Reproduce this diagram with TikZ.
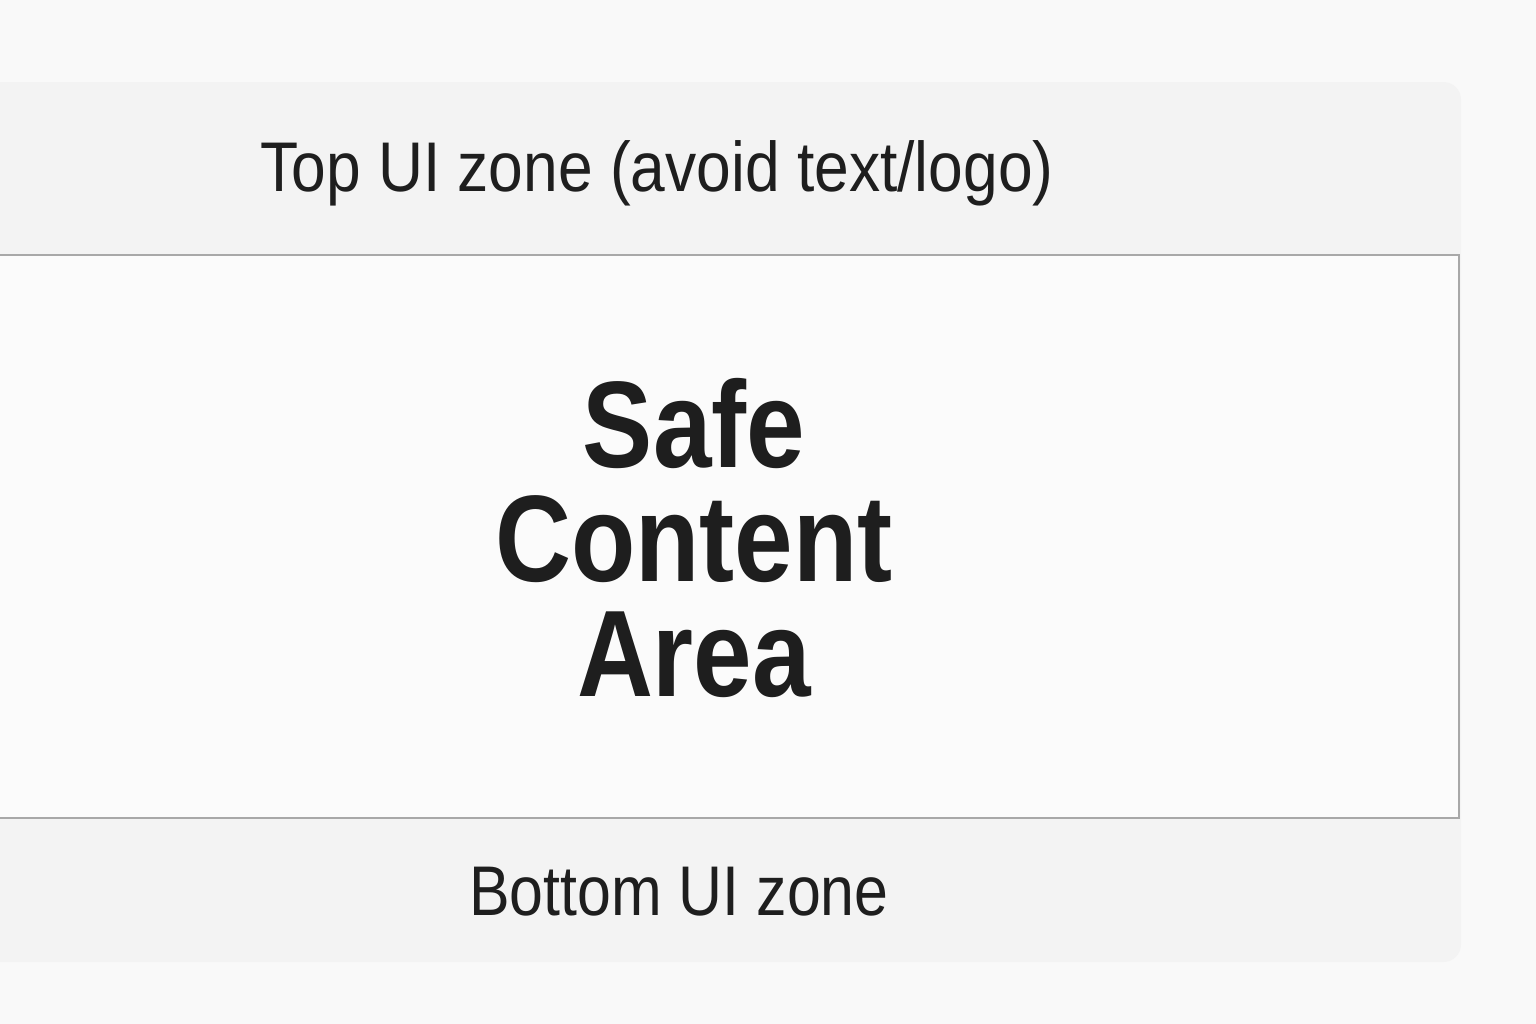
\documentclass[tikz,border=0pt]{standalone}
\usepackage{fontspec}
\setmainfont{Liberation Sans}
\definecolor{bgc}{HTML}{F9F9F9}
\definecolor{panelc}{HTML}{F3F3F3}
\definecolor{safec}{HTML}{FBFBFB}
\definecolor{borderc}{HTML}{A8A8A8}
\definecolor{txtc}{HTML}{1E1E1E}
\newcommand{\hsq}[2]{\scalebox{#1}[1]{#2}}
\begin{document}
\begin{tikzpicture}[x=0.01cm,y=-0.01cm,
  zonelabel/.style={text=txtc,font=\fontsize{20}{24}\selectfont,inner sep=0pt},
  safelabel/.style={text=txtc,font=\fontsize{35}{32.7}\selectfont\bfseries,align=center,inner sep=0pt}]
\fill[bgc] (0,0) rectangle (1536,1024);
\useasboundingbox (0,0) rectangle (1536,1024);
\fill[panelc,rounded corners=5] (-30,82) rectangle (1461,962);
\fill[safec] (-30,255) rectangle (1459,818);
\draw[borderc,line width=0.8pt] (-30,255) -- (1459,255) -- (1459,818) -- (-30,818);
\node[zonelabel] (top) at (657,173) {\hsq{0.886}{Top UI zone (avoid text/logo)}};
\node[safelabel] (safe) at (694,538) {\hsq{0.855}{Safe}\\\hsq{0.855}{Content}\\\hsq{0.855}{Area}};
\node[zonelabel] (bottom) at (679,892) {\hsq{0.865}{Bottom UI zone}};
\end{tikzpicture}
\end{document}
